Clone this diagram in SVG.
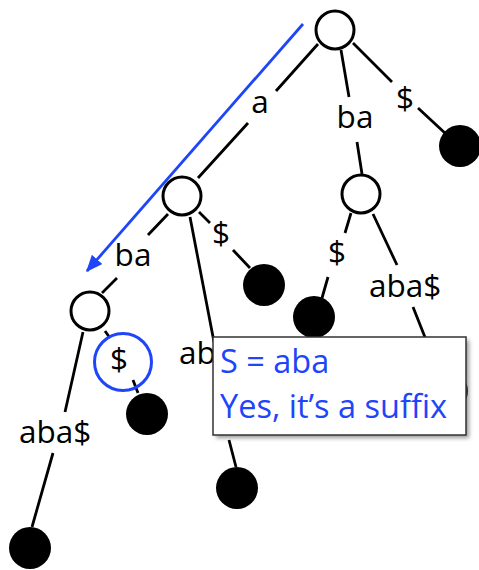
<svg xmlns="http://www.w3.org/2000/svg" width="479" height="570" viewBox="0 0 479 570">
<style>
.edge{stroke:#000;stroke-width:2.8;fill:none;stroke-linecap:butt}
.inner{fill:#fff;stroke:#000;stroke-width:3}
.leaf{fill:#000}
.lbl{font-family:"Open Sans","Liberation Sans",sans-serif;font-size:31.5px;fill:#000}
.blue{fill:#1f45fa;font-family:"Open Sans","Liberation Sans",sans-serif;font-size:32.5px}
</style>
<defs>
<marker id="ah" markerWidth="6" markerHeight="5" refX="5.5" refY="2.5" orient="auto" markerUnits="strokeWidth">
<path d="M0,0 L6,2.5 L0,5 z" fill="#1f45fa"/>
</marker>
<filter id="sh" x="-10%" y="-10%" width="130%" height="130%">
<feGaussianBlur stdDeviation="2"/>
</filter>
</defs>
<g id="connectors">
<path class="edge" d="M318,44 L276,91 M248,123 L198,178"/>
<path class="edge" d="M341,50 L349,97 M357,142 L362,174"/>
<path class="edge" d="M353,43 L392,82 M418,108 L446,134"/>
<path class="edge" d="M168,214 L148,235 M117,278 L102,293"/>
<path class="edge" d="M199,212 L210,223 M233,250 L250,268"/>
<path class="edge" d="M190,217 L214,342 M229,440 L236,467"/>
<path class="edge" d="M105,331 L110,338 M133,380 L138,393"/>
<path class="edge" d="M83,332 L65,412 M53,453 L32,527"/>
<path class="edge" d="M351,213 L345,233 M328,277 L322,298"/>
<path class="edge" d="M373,214 L397,265 M413,307 L436,365"/>
</g>
<g id="labels">
<text class="lbl" x="260" y="113" text-anchor="middle">a</text>
<text class="lbl" x="355" y="128" text-anchor="middle">ba</text>
<text class="lbl" x="405" y="109" text-anchor="middle">$</text>
<text class="lbl" x="133" y="266" text-anchor="middle">ba</text>
<text class="lbl" x="221" y="244" text-anchor="middle">$</text>
<text class="lbl" x="179" y="364">aba$</text>
<text class="lbl" x="119" y="370" text-anchor="middle">$</text>
<text class="lbl" x="19" y="443">aba$</text>
<text class="lbl" x="337" y="263" text-anchor="middle">$</text>
<text class="lbl" x="369" y="297">aba$</text>
</g>
<g id="root"><circle class="inner" cx="335" cy="30" r="19"/></g>
<g id="n-a"><circle class="inner" cx="182" cy="196" r="19"/></g>
<g id="n-ba"><circle class="inner" cx="361" cy="194" r="19"/></g>
<g id="n-aba"><circle class="inner" cx="90" cy="311" r="19"/></g>
<g id="leaf-root"><circle class="leaf" cx="460" cy="146" r="21"/></g>
<g id="leaf-a"><circle class="leaf" cx="264" cy="285" r="21"/></g>
<g id="leaf-a-long"><circle class="leaf" cx="237" cy="488" r="21"/></g>
<g id="leaf-aba"><circle class="leaf" cx="147" cy="414" r="21"/></g>
<g id="leaf-aba-long"><circle class="leaf" cx="30" cy="548" r="21"/></g>
<g id="leaf-ba"><circle class="leaf" cx="314" cy="317" r="21"/></g>
<g id="leaf-ba-long"><circle class="leaf" cx="447" cy="391" r="21"/></g>
<g id="highlight">
<line x1="303" y1="24" x2="87" y2="271" stroke="#1f45fa" stroke-width="2.8" marker-end="url(#ah)"/>
<circle cx="123" cy="362" r="28.5" fill="none" stroke="#1f45fa" stroke-width="3"/>
</g>
<g id="callout">
<rect x="216" y="340" width="253" height="98" fill="#555" opacity="0.6" filter="url(#sh)"/>
<rect x="213" y="337" width="253" height="98" fill="#fff" stroke="#333" stroke-width="1.5"/>
<text class="blue" x="220" y="373">S = aba</text>
<text class="blue" x="220" y="418">Yes, it’s a suffix</text>
</g>
</svg>
